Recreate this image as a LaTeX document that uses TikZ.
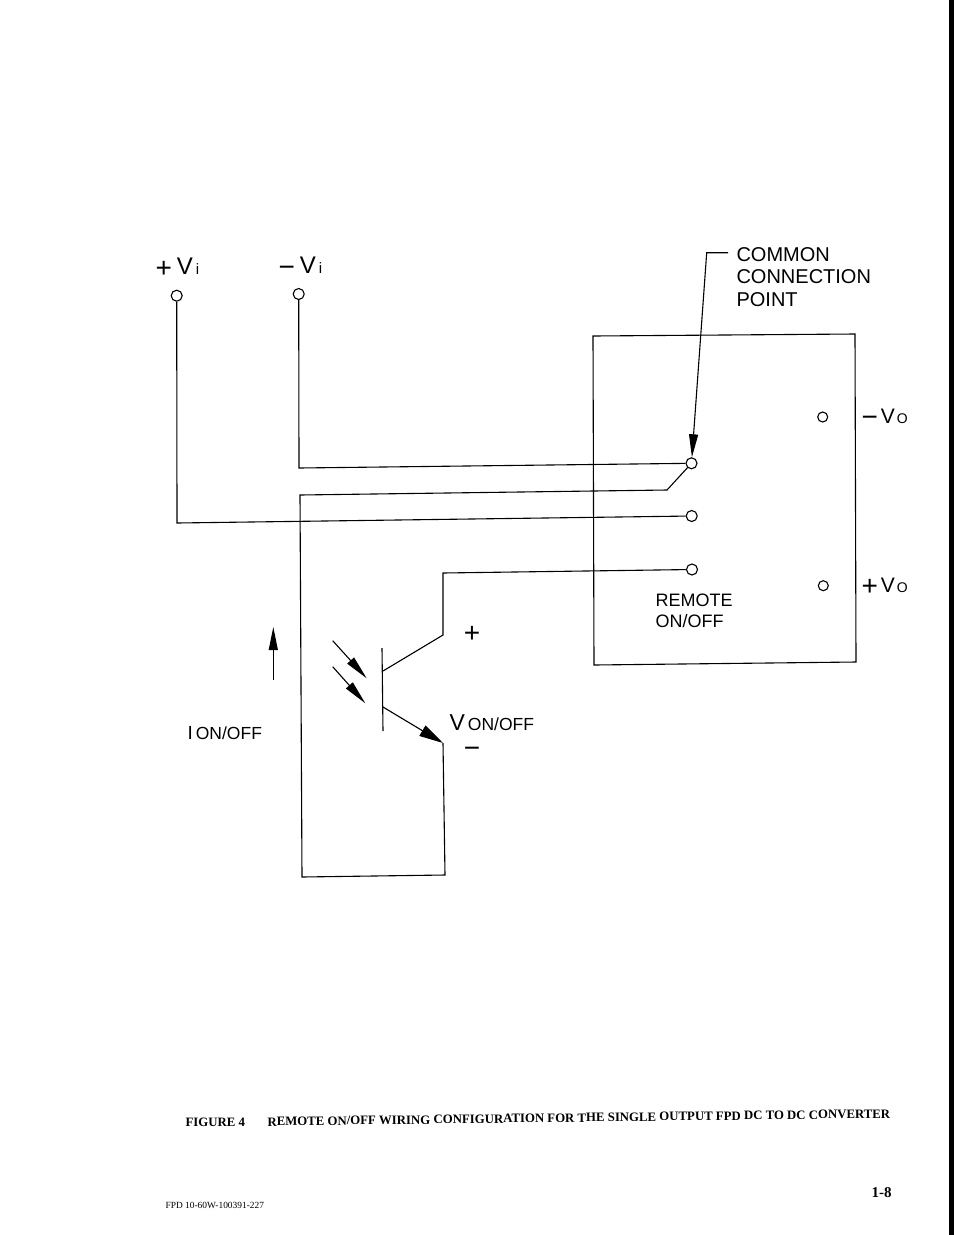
\documentclass[tikz,border=0pt]{standalone}
\usepackage{fontspec}
\usepackage{tikz}
\usetikzlibrary{arrows.meta}
\newfontfamily\cadfont{Liberation Sans}
\newfontfamily\capfont{Liberation Serif}
\newcommand{\bigplus}{{\fontsize{28}{28}\selectfont\raisebox{-3pt}{+}}}
\newcommand{\bigminus}{{\fontsize{28}{28}\selectfont\raisebox{-3pt}{\char"2212}}}

\begin{document}
\begin{tikzpicture}[x=1pt,y=-1pt,line width=1.1pt,
        terminal/.style={circle,draw,fill=white,inner sep=0pt,minimum size=11pt},
        outterm/.style={circle,draw,fill=white,inner sep=0pt,minimum size=10pt},
        biglabel/.style={inner sep=0pt,anchor=base west,align=left,font=\cadfont\fontsize{20}{22.5}\selectfont},
        midlabel/.style={inner sep=0pt,anchor=base west,align=left,font=\cadfont\fontsize{18}{20.5}\selectfont},
        sublabel/.style={inner sep=0pt,anchor=base west,font=\cadfont\fontsize{17.5}{17.5}\selectfont},
        signlabel/.style={inner sep=0pt,font=\cadfont\fontsize{28}{28}\selectfont},
        bigtip/.style={-{Triangle[length=23pt,width=9pt]}},
        lighttip/.style={-{Triangle[length=24pt,width=9pt]}},
        emittip/.style={-{Triangle[length=24pt,width=12pt]}}]
        \useasboundingbox (0,0) rectangle (954,1235);
        \fill[white] (0,0) rectangle (954,1235);
        \fill[black] (948.5,0) rectangle (954,1235);
        % converter box
        \draw (593,336) -- (855,334) -- (856,662) -- (594,665) -- cycle;
        % terminals
        \foreach \name/\x/\y in {vplus/176.7/295.7,vminus/298.7/294,cpoint/691.5/463.3,vin/691.7/516,remote/692/569.5}
        {
            \node[terminal] (\name) at (\x,\y) {};
        }
        \node[outterm] (vominus) at (822.7,417) {};
        \node[outterm] (voplus) at (823.3,585.7) {};
        % wires
        \draw (vminus) -- (299,468) -- (cpoint);
        \draw (vplus) -- (177,523) -- (vin);
        \coordinate (cath) at (443,743);
        \coordinate (coll) at (443,635);
        \coordinate (bcoll) at (383,671);
        \coordinate (bemit) at (383,707);
        \draw (cpoint) -- (667,490) -- (300,495) -- (302,877) -- (445,875) -- (cath);
        \draw (remote) -- (443,573) -- (coll) -- (bcoll);
        % transistor
        \draw (382,648) -- (383,731);
        \draw[emittip] (bemit) -- (cath);
        \coordinate (la) at (332.7,640.7);
        \coordinate (lb) at (366.7,678.3);
        \coordinate (lc) at (332.7,666.7);
        \coordinate (ld) at (365.3,703.3);
        \draw[lighttip] (la) -- (lb);
        \draw[lighttip] (lc) -- (ld);
        % current arrow
        \coordinate (ia) at (273.3,680);
        \coordinate (ib) at (273.3,627);
        \draw[bigtip] (ia) -- (ib);
        % pointer
        \node[biglabel] (common) at (736,306) {COMMON\\CONNECTION\\POINT};
        \coordinate (cc) at (728,252.7);
        \draw[bigtip] (cc) -- (706.7,252.7) -- (cpoint);
        % labels
        \node[biglabel] (lvp) at (155,274) {\bigplus\hspace{5pt}{\fontsize{24}{24}\selectfont V}\hspace{3pt}{\fontsize{15}{15}\selectfont i}};
        \node[biglabel] (lvm) at (278,273) {\bigminus\hspace{5pt}{\fontsize{24}{24}\selectfont V}\hspace{3pt}{\fontsize{15}{15}\selectfont i}};
        \node[biglabel] (lop) at (861,423) {\bigminus\hspace{3pt}{\fontsize{21}{21}\selectfont V}\hspace{2pt}{\fontsize{14}{14}\selectfont O}};
        \node[biglabel] (lom) at (861,592) {\bigplus\hspace{3pt}{\fontsize{21}{21}\selectfont V}\hspace{2pt}{\fontsize{14}{14}\selectfont O}};
        \node[midlabel] (lrem) at (655,627) {REMOTE\\ON/OFF};
        \node[sublabel] (lion) at (187,739) {{\fontsize{19}{19}\selectfont I}\hspace{3pt}ON/OFF};
        \node[sublabel] (lvon) at (449,730) {{\fontsize{23}{23}\selectfont V}\hspace{3pt}ON/OFF};
        \node[signlabel] (lpl) at (472,634) {+};
        \node[signlabel] (lmi) at (472,752) {\char"2212};
        % caption
        \node[inner sep=0pt,anchor=base west,font=\capfont\bfseries\fontsize{12.8}{12.8}\selectfont] (lfig) at (185,1126) {FIGURE 4};
        \node[inner sep=0pt,anchor=base west,rotate=0.74,font=\capfont\bfseries\fontsize{12.8}{12.8}\selectfont] (lcap) at (267,1126) {REMOTE ON/OFF WIRING CONFIGURATION FOR THE SINGLE OUTPUT FPD DC TO DC CONVERTER};
        \node[inner sep=0pt,anchor=base west,font=\capfont\bfseries\fontsize{15}{15}\selectfont] (lpage) at (871,1197) {1-8};
        \node[inner sep=0pt,anchor=base west,font=\capfont\fontsize{9.4}{9.4}\selectfont] (lfoot) at (165,1208) {FPD 10-60W-100391-227};
    \end{tikzpicture}
\end{document}
